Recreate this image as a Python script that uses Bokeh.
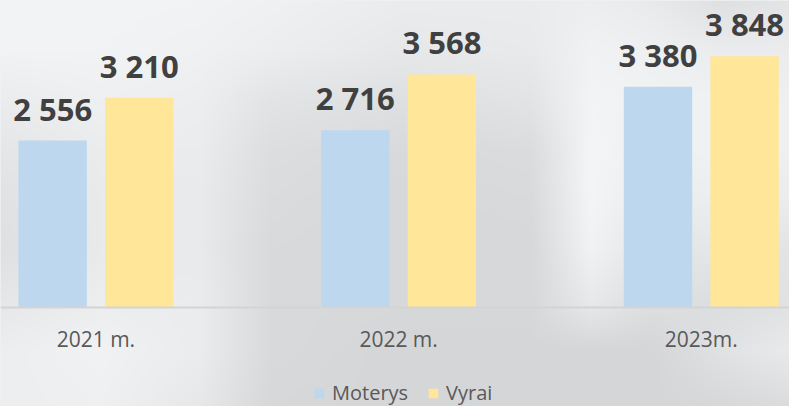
import numpy as np
from bokeh.plotting import figure
from bokeh.models import ColumnDataSource, Range1d, Legend, LegendItem, Span
from bokeh.transform import dodge
from bokeh.core.properties import value
from bokeh.embed import file_html
from bokeh.resources import INLINE

# ---- data ----
years = ["2021 m.", "2022 m.", "2023m."]
moterys = [2556, 2716, 3380]
vyrai = [3210, 3568, 3848]
series = ["Moterys", "Vyrai"]
colors = ["#BDD7EE", "#FFE699"]


def fmt(v):
    return f"{v:,}".replace(",", " ")


xs = list(range(len(years)))
src = ColumnDataSource(dict(
    x=xs, m=moterys, v=vyrai, zero=[0] * len(xs), year=years,
    ml=[fmt(v) for v in moterys], vl=[fmt(v) for v in vyrai],
))

FONT = value("Open Sans")
OFF = 0.143
BW = 0.226
X0, X1 = -0.3152, 2.2914
Y0, Y1 = -1516, 4701

W, H = 789, 406
p = figure(frame_width=W, frame_height=H, output_backend="svg", toolbar_location=None,
           x_range=Range1d(X0, X1), y_range=Range1d(Y0, Y1),
           x_axis_location=None, y_axis_location=None,
           min_border_left=0, min_border_right=0, min_border_top=0, min_border_bottom=0)
p.background_fill_color = "#e4e5e7"
p.border_fill_color = "#e4e5e7"
p.outline_line_color = None
p.grid.visible = False

# ---- soft blurred-photo style backdrop (decoration only) ----
bg_cols = np.array([0, 100, 200, 270, 400, 530, 590, 650, 720, 789], float)
bg_rows = np.array([0, 50, 100, 150, 200, 250, 307, 350, 406], float)
bg_lum = np.array([
    [244, 244, 243, 241, 236, 236, 238, 234, 224, 228],
    [243, 243, 241, 238, 232, 234, 242, 240, 236, 236],
    [236, 240, 238, 228, 224, 228, 244, 242, 242, 240],
    [230, 236, 236, 222, 218, 220, 245, 240, 242, 240],
    [226, 234, 234, 220, 216, 218, 245, 236, 238, 236],
    [224, 234, 234, 218, 216, 216, 242, 230, 230, 228],
    [232, 238, 236, 218, 216, 216, 232, 222, 222, 226],
    [238, 242, 236, 218, 214, 214, 214, 214, 226, 234],
    [238, 240, 232, 216, 214, 214, 214, 214, 216, 220],
], float)
px = np.arange(W) + 0.5
py = np.arange(H) + 0.5
tmp = np.array([np.interp(px, bg_cols, row) for row in bg_lum])
lum = np.array([np.interp(py, bg_rows, tmp[:, j]) for j in range(W)]).T
lum = lum[::-1]  # image row 0 is the bottom
r = np.clip(lum - 1, 0, 255).astype(np.uint32)
g = np.clip(lum, 0, 255).astype(np.uint32)
b = np.clip(lum + 2, 0, 255).astype(np.uint32)
img = (255 << 24) | (b << 16) | (g << 8) | r
p.image_rgba(image=[img.view(np.uint32)], x=X0, y=Y0, dw=X1 - X0, dh=Y1 - Y0)

# category baseline (axis line)
p.add_layout(Span(location=0, dimension="width", line_color="#d4d4d4", line_width=2))

r1 = p.vbar(x=dodge("x", -OFF, range=p.x_range), top="m", bottom=0, width=BW, source=src,
            fill_color=colors[0], line_color=None)
r2 = p.vbar(x=dodge("x", OFF, range=p.x_range), top="v", bottom=0, width=BW, source=src,
            fill_color=colors[1], line_color=None)

for field, lab, off in (("m", "ml", -OFF), ("v", "vl", OFF)):
    p.text(x=dodge("x", off, range=p.x_range), y=field, text=lab, source=src,
           text_align="center", text_baseline="alphabetic", y_offset=-32,
           text_font=FONT, text_font_style="bold", text_font_size="31px",
           text_color="#404040")

# category labels under the baseline
p.text(x="x", y="zero", text="year", source=src, text_align="center",
       text_baseline="top", y_offset=18, text_font=FONT, text_font_size="21px",
       text_color="#595959")

legend = Legend(items=[LegendItem(label=series[0], renderers=[r1]),
                       LegendItem(label=series[1], renderers=[r2])],
                orientation="horizontal", location=(313, 0),
                glyph_width=12, glyph_height=12, label_standoff=7, spacing=19,
                label_text_font="Open Sans", label_text_font_size="20px",
                label_text_color="#595959", background_fill_alpha=0,
                border_line_alpha=0, padding=0, margin=0)
p.add_layout(legend, "center")

open("out.html", "w").write(file_html(p, INLINE))
